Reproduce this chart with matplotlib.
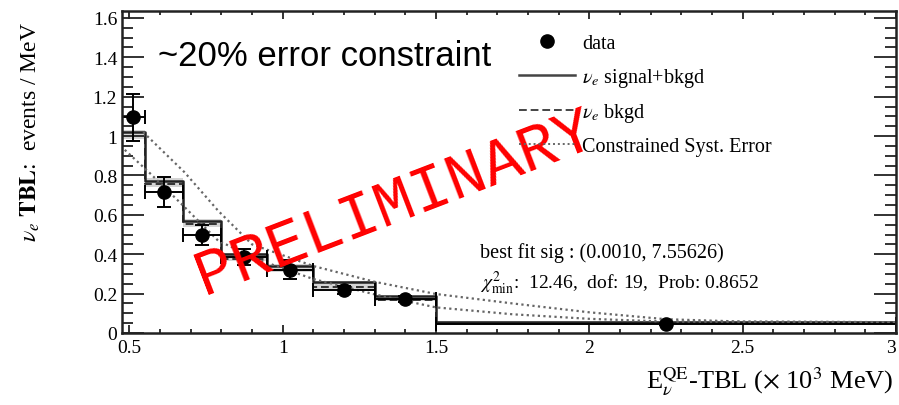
import numpy as np
import matplotlib
matplotlib.use('Agg')
import matplotlib.pyplot as plt
from matplotlib.lines import Line2D
from matplotlib.ticker import MultipleLocator, FormatStrFormatter

plt.rcParams['font.family'] = ['Liberation Serif', 'DejaVu Serif']
plt.rcParams['mathtext.fontset'] = 'stix'

# bin edges (x 10^3 MeV)
edges = [0.475, 0.55, 0.675, 0.8, 0.95, 1.1, 1.3, 1.5, 3.0]
# data points at bin centres
data_y = [1.095, 0.714, 0.497, 0.384, 0.321, 0.220, 0.173, 0.046]
data_err = [0.12, 0.076, 0.05, 0.04, 0.048, 0.02, 0.015, 0.006]
# prediction histograms
sig_bkgd = [1.020, 0.773, 0.570, 0.400, 0.342, 0.260, 0.186, 0.058]
bkgd = [1.000, 0.757, 0.553, 0.378, 0.318, 0.232, 0.168, 0.052]
band_lo = [0.985, 0.740, 0.540, 0.368, 0.308, 0.225, 0.162, 0.049]
band_hi = [1.030, 0.785, 0.580, 0.406, 0.348, 0.265, 0.190, 0.060]
# constrained syst. error envelope (dotted)
up_x = [0.545, 0.68, 0.79, 0.9, 1.1, 1.3, 1.5, 1.75, 2.0, 2.25, 2.5, 3.0]
up_y = [1.02, 0.816, 0.62, 0.45, 0.34, 0.26, 0.198, 0.15, 0.105, 0.07, 0.058, 0.055]
lo_x = [0.485, 0.57, 0.67, 0.79, 0.93, 1.1, 1.3, 1.5, 1.75, 2.0, 2.25, 3.0]
lo_y = [0.93, 0.807, 0.655, 0.468, 0.367, 0.274, 0.196, 0.13, 0.095, 0.072, 0.058, 0.055]
xticks = [0.5, 1.0, 1.5, 2.0, 2.5, 3.0]
xtick_labels = ['0.5', '1', '1.5', '2', '2.5', '3']

edges = np.array(edges)
centres = 0.5 * (edges[1:] + edges[:-1])
half_w = 0.5 * (edges[1:] - edges[:-1])

def stepped(vals):
    return np.append(vals, vals[-1])

fig = plt.figure(figsize=(8.99, 4.06), dpi=100)
ax = fig.add_axes([122 / 899, 72 / 406, 774 / 899, 322 / 406])

ax.fill_between(edges, stepped(band_lo), stepped(band_hi), step='post',
                color='#d4d4d4', lw=0)
ax.step(edges, stepped(bkgd), where='post', color='#333333', lw=1.4, ls=(0, (4, 2)))
ax.step(edges, stepped(sig_bkgd), where='post', color='#222222', lw=1.8)
ax.plot(up_x, up_y, color='#666666', lw=1.6, ls=(0, (1, 1.5)))
ax.plot(lo_x, lo_y, color='#666666', lw=1.6, ls=(0, (1, 1.5)))
ax.errorbar(centres, data_y, yerr=data_err, xerr=half_w, fmt='o', color='black',
            ms=9.5, lw=1.4, capsize=5, capthick=1.4)

ax.set_xlim(0.476, 3.0)
ax.set_ylim(0, 1.635)
ax.set_xticks(xticks)
ax.set_xticklabels(xtick_labels)
ax.xaxis.set_minor_locator(MultipleLocator(0.1))
ax.yaxis.set_major_locator(MultipleLocator(0.2))
ax.yaxis.set_minor_locator(MultipleLocator(0.05))
ax.yaxis.set_major_formatter(FormatStrFormatter('%g'))
ax.tick_params(which='both', direction='in', top=True, right=True, labelsize=14,
               width=1.3, color='#222222')
ax.tick_params(axis='y', which='major', length=16)
ax.tick_params(axis='y', which='minor', length=8)
ax.tick_params(axis='x', which='major', length=6, pad=4)
ax.tick_params(axis='x', which='minor', length=3)
for s in ax.spines.values():
    s.set_linewidth(1.8)
    s.set_color('#222222')

# keep the last x tick label ("3") inside the picture
ax.get_xticklabels()[-1].set_horizontalalignment('right')

fig.text(30 / 899, 1 - 132 / 406, r'$\nu_e$ $\mathbf{TBL}$:  events / MeV',
         rotation=90, ha='center', va='center', fontsize=17)
fig.text(893 / 899, 1 - 382 / 406, r'E$_{\nu}^{\rm QE}$-TBL ($\times$ 10$^{3}$ MeV)',
         ha='right', va='center', fontsize=19)

fig.text(158 / 899, 1 - 56 / 406, '~20% error constraint', family='Liberation Sans',
         ha='left', va='center', fontsize=25)

ax.text(480 / 899, 1 - 253 / 406, 'best fit sig : (0.0010, 7.55626)',
        transform=fig.transFigure, fontsize=14.5, va='center')
ax.text(480 / 899, 1 - 283 / 406, r'$\chi^{2}_{\rm min}$:  12.46,  dof: 19,  Prob: 0.8652',
        transform=fig.transFigure, fontsize=14, va='center')

handles = [
    Line2D([], [], marker='o', color='black', ls='none', ms=9.5),
    Line2D([], [], color='#444444', lw=1.8),
    Line2D([], [], color='#444444', lw=1.4, ls=(0, (4, 2))),
    Line2D([], [], color='#666666', lw=1.4, ls=(0, (1, 1.5))),
]
labels = ['data', r'$\nu_e$ signal+bkgd', r'$\nu_e$ bkgd', 'Constrained Syst. Error']
fig.legend(handles, labels, loc='upper left', bbox_to_anchor=(519 / 899, 1 - 35 / 406),
           frameon=False, fontsize=14.5, handlelength=2.8, handletextpad=0.35,
           labelspacing=0.62, borderpad=0, borderaxespad=0)

fig.text(395 / 899, 1 - 203 / 406, 'PRELIMINARY', family='Liberation Mono',
         color='red', fontsize=46, rotation=21, ha='center', va='center',
         rotation_mode='anchor')

fig.savefig('out.png', dpi=100)
